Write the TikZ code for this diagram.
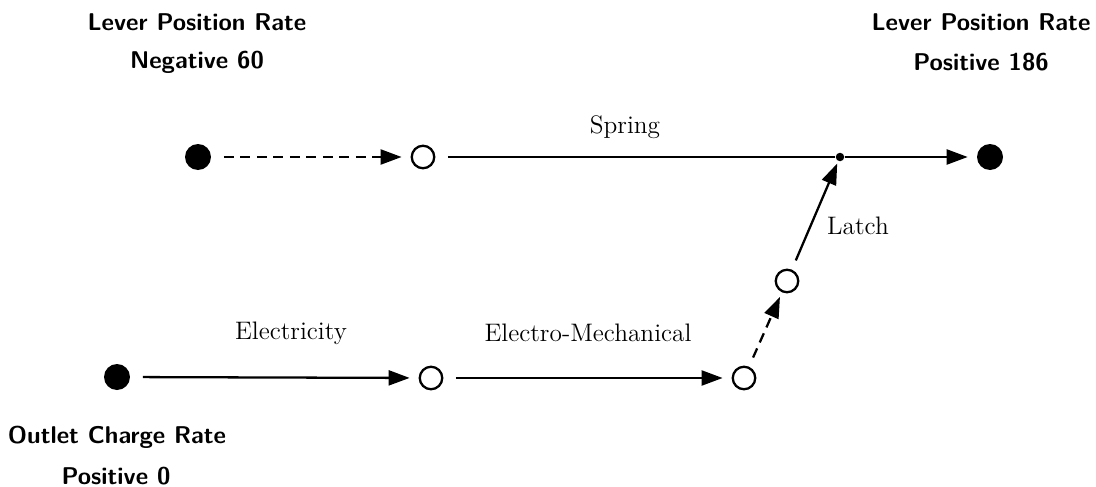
\documentclass[tikz,border=0pt]{standalone}
\usepackage{tikz}
\usetikzlibrary{arrows.meta}

\begin{document}
\begin{tikzpicture}[x=0.02cm,y=-0.02cm,
	state/.style={circle,draw,line width=1.3pt,minimum size=0.45cm,inner sep=0pt},
	term/.style={circle,fill,minimum size=0.52cm,inner sep=0pt},
	joint/.style={circle,fill,minimum size=0.17cm,inner sep=0pt},
	rate/.style={font=\sffamily\bfseries\fontsize{13.8}{16}\selectfont,align=center},
	flow/.style={font=\fontsize{14.4}{17}\selectfont},
	link/.style={line width=1.3pt,-{Triangle[length=0.42cm,width=0.3cm]}},
	broken/.style={dash pattern=on 0.2cm off 0.13cm},
	shorten <=0.25cm,shorten >=0.18cm]
	\useasboundingbox (0,0) rectangle (1096,487);
	% upper row
	\node[term] (lneg) at (198,157) {};
	\node[state] (lmid) at (423,157) {};
	\node[joint] (knot) at (840,157) {};
	\node[term] (lpos) at (990,157) {};
	% lower row
	\node[term] (outlet) at (117,377) {};
	\node[state] (emid) at (431,378) {};
	\node[state] (mech) at (744,378) {};
	\node[state] (latch) at (787,281) {};
	% texts
	\node[rate] at (197,22) {Lever Position Rate};
	\node[rate] at (197,62) {Negative 60};
	\node[rate] at (981,22) {Lever Position Rate};
	\node[rate] at (981,62) {Positive 186};
	\node[rate] at (117,437) {Outlet Charge Rate};
	\node[rate] at (116,476) {Positive 0};
	\node[flow] at (625,127) {Spring};
	\node[flow] at (291,333) {Electricity};
	\node[flow] at (588,333) {Electro-Mechanical};
	\node[flow] at (858,226) {Latch};
	% connectors
	\draw[link,broken] (lneg) -- (lmid);
	\draw[line width=1.3pt,shorten >=0pt] (lmid) -- (knot);
	\draw[link,shorten <=0pt] (knot) -- (lpos);
	\draw[link] (outlet) -- (emid);
	\draw[link] (emid) -- (mech);
	\draw[link,broken,shorten <=0.2cm,shorten >=0.1cm] (mech) -- (latch);
	\draw[link,shorten <=0.2cm,shorten >=0.05cm] (latch) -- (knot);
\end{tikzpicture}
\end{document}
